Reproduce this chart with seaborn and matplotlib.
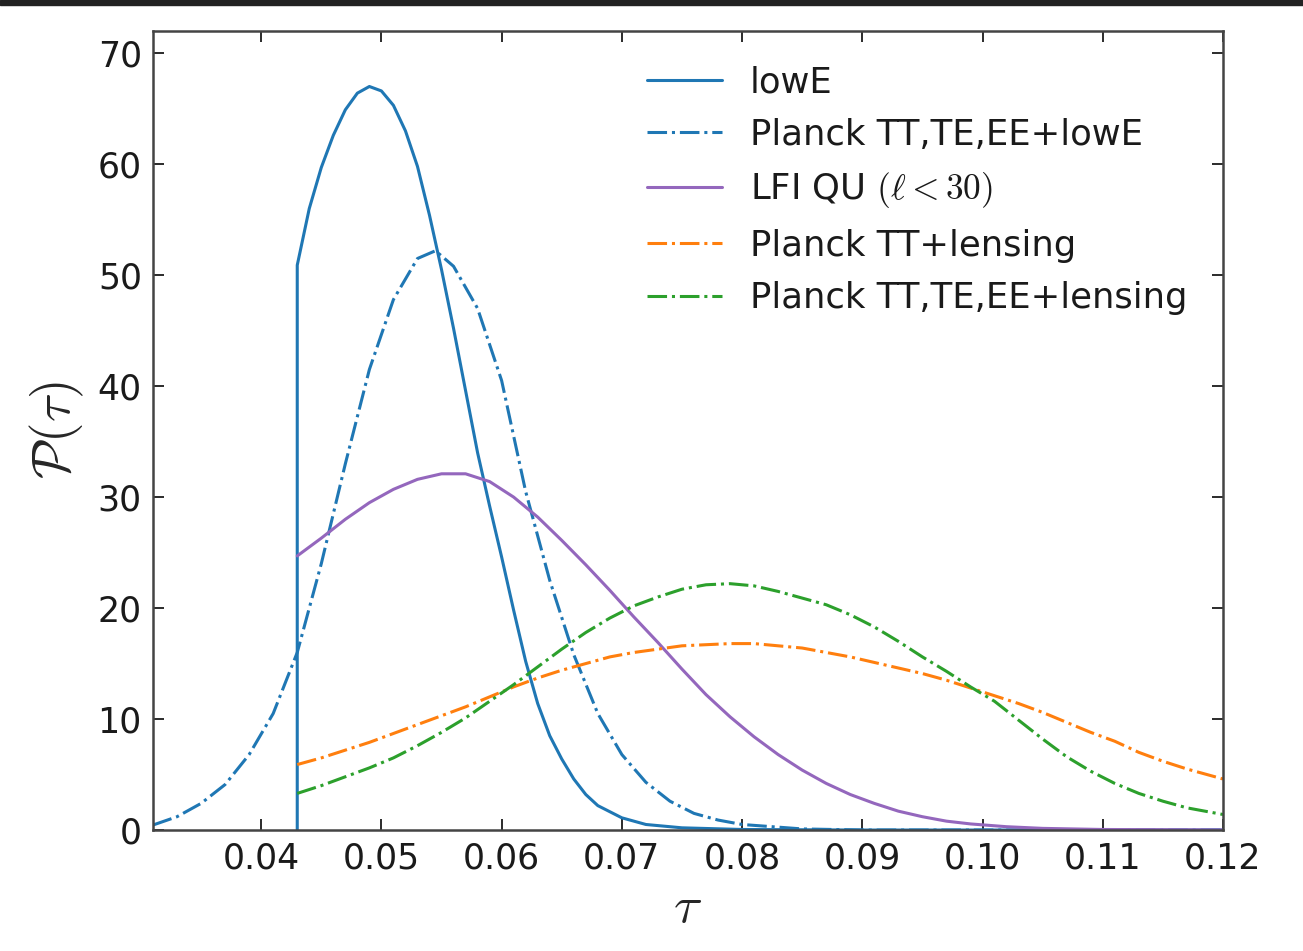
import numpy as np
import pandas as pd
import matplotlib
matplotlib.use("Agg")
import matplotlib.pyplot as plt
import seaborn as sns

# ---------------- data ----------------
lowE_x = [0.043, 0.043, 0.044, 0.045, 0.046, 0.047, 0.048, 0.049, 0.050, 0.051, 0.052,
          0.053, 0.054, 0.055, 0.056, 0.057, 0.058, 0.059, 0.060, 0.061, 0.062,
          0.063, 0.064, 0.065, 0.066, 0.067, 0.068, 0.070, 0.072, 0.075, 0.080,
          0.090, 0.120]
lowE_y = [0.0, 50.9, 56.0, 59.7, 62.6, 64.9, 66.4, 67.0, 66.6, 65.3, 63.0,
          59.8, 55.4, 50.5, 45.2, 39.6, 34.0, 29.2, 24.6, 19.8, 15.2,
          11.4, 8.5, 6.4, 4.6, 3.2, 2.2, 1.1, 0.5, 0.2, 0.05,
          0.0, 0.0]

ttteee_x = [0.031, 0.033, 0.035, 0.037, 0.039, 0.041, 0.043, 0.045, 0.047, 0.049,
            0.051, 0.053, 0.0545, 0.056, 0.058, 0.060, 0.062, 0.064, 0.066, 0.068,
            0.070, 0.072, 0.074, 0.076, 0.078, 0.080, 0.085, 0.090, 0.120]
ttteee_y = [0.45, 1.2, 2.4, 4.1, 6.8, 10.5, 16.0, 24.0, 33.0, 41.5,
            47.8, 51.5, 52.2, 50.8, 47.0, 40.5, 30.5, 22.5, 15.8, 10.5,
            6.8, 4.3, 2.6, 1.5, 0.9, 0.5, 0.1, 0.0, 0.0]

lfi_x = [0.043, 0.045, 0.047, 0.049, 0.051, 0.053, 0.055, 0.057, 0.059, 0.061,
         0.063, 0.065, 0.067, 0.069, 0.071, 0.073, 0.075, 0.077, 0.079, 0.081,
         0.083, 0.085, 0.087, 0.089, 0.091, 0.093, 0.095, 0.097, 0.099, 0.102,
         0.105, 0.110, 0.120]
lfi_y = [24.7, 26.3, 28.0, 29.5, 30.7, 31.6, 32.1, 32.1, 31.4, 30.0,
         28.2, 26.1, 23.9, 21.6, 19.2, 16.9, 14.5, 12.2, 10.2, 8.4,
         6.8, 5.4, 4.2, 3.2, 2.4, 1.7, 1.2, 0.8, 0.55, 0.3,
         0.15, 0.05, 0.01]

ttlens_x = [0.043, 0.045, 0.047, 0.049, 0.051, 0.053, 0.055, 0.057, 0.059, 0.061,
            0.063, 0.065, 0.067, 0.069, 0.071, 0.073, 0.075, 0.077, 0.079, 0.081,
            0.083, 0.085, 0.087, 0.089, 0.091, 0.093, 0.095, 0.097, 0.099, 0.101,
            0.103, 0.105, 0.107, 0.109, 0.111, 0.113, 0.115, 0.117, 0.119, 0.120]
ttlens_y = [5.9, 6.5, 7.2, 7.9, 8.7, 9.5, 10.3, 11.1, 12.0, 12.9,
            13.7, 14.4, 15.0, 15.6, 16.0, 16.3, 16.6, 16.7, 16.8, 16.8,
            16.6, 16.4, 16.0, 15.6, 15.1, 14.6, 14.1, 13.5, 12.8, 12.1,
            11.4, 10.6, 9.7, 8.8, 8.0, 7.0, 6.2, 5.5, 4.9, 4.6]

ttteeelens_x = ttlens_x
ttteeelens_y = [3.3, 4.0, 4.8, 5.6, 6.5, 7.6, 8.8, 10.1, 11.6, 13.1,
                14.7, 16.3, 17.8, 19.1, 20.2, 21.0, 21.7, 22.1, 22.2, 22.0,
                21.5, 20.9, 20.3, 19.4, 18.3, 17.0, 15.6, 14.3, 12.9, 11.6,
                9.9, 8.2, 6.6, 5.3, 4.2, 3.3, 2.6, 2.0, 1.6, 1.4]

labels = ["lowE", "Planck TT,TE,EE+lowE", r"LFI QU $(\ell < 30)$",
          "Planck TT+lensing", "Planck TT,TE,EE+lensing"]
x_ticks = [0.04, 0.05, 0.06, 0.07, 0.08, 0.09, 0.10, 0.11, 0.12]
x_tick_labels = ["0.04", "0.05", "0.06", "0.07", "0.08", "0.09", "0.10", "0.11", "0.12"]
y_ticks = [0, 10, 20, 30, 40, 50, 60, 70]

# ---------------- style ----------------
sns.set_style("ticks")
plt.rcParams["font.family"] = ["DejaVu Sans"]
plt.rcParams["mathtext.fontset"] = "cm"

fig = plt.figure(figsize=(13.03, 9.51), dpi=100)
ax = fig.add_axes([0.1174, 0.1272, 0.8212, 0.8402])

# top dark band
fig.patches.append(matplotlib.patches.Rectangle((0, 1 - 5 / 951), 1, 5 / 951,
                                                transform=fig.transFigure,
                                                color="#222222", zorder=10))

series = [
    (lowE_x, lowE_y, "#1f77b4", "-"),
    (ttteee_x, ttteee_y, "#1f77b4", "-."),
    (lfi_x, lfi_y, "#9467bd", "-"),
    (ttlens_x, ttlens_y, "#ff7f0e", "-."),
    (ttteeelens_x, ttteeelens_y, "#2ca02c", "-."),
]
for (xs, ys, c, ls), lab in zip(series, labels):
    df = pd.DataFrame({"x": xs, "y": ys})
    sns.lineplot(data=df, x="x", y="y", ax=ax, color=c, linestyle=ls, lw=2.2,
                 label=lab, estimator=None, sort=False,
                 solid_joinstyle="round", dash_joinstyle="round")

ax.set_xlim(0.031, 0.12)
ax.set_ylim(0, 72)
ax.set_xticks(x_ticks)
ax.set_xticklabels(x_tick_labels)
ax.set_yticks(y_ticks)
ax.tick_params(direction="in", top=True, right=True, length=8, width=1.3,
               labelsize=25, colors="#1a1a1a", pad=8)
for s in ax.spines.values():
    s.set_linewidth(1.8)
    s.set_color("#444444")

ax.set_xlabel(r"$\tau$", fontsize=38, labelpad=4)
ax.set_ylabel(r"$\mathcal{P}(\tau)$", fontsize=38, labelpad=8)

leg = ax.legend(loc="upper right", frameon=False, fontsize=25.5,
                handlelength=2.1, handletextpad=0.8, labelspacing=0.52,
                borderaxespad=0.3, bbox_to_anchor=(0.99, 0.988))
for t in leg.get_texts():
    t.set_color("#1a1a1a")

fig.savefig("out.png", dpi=100)
